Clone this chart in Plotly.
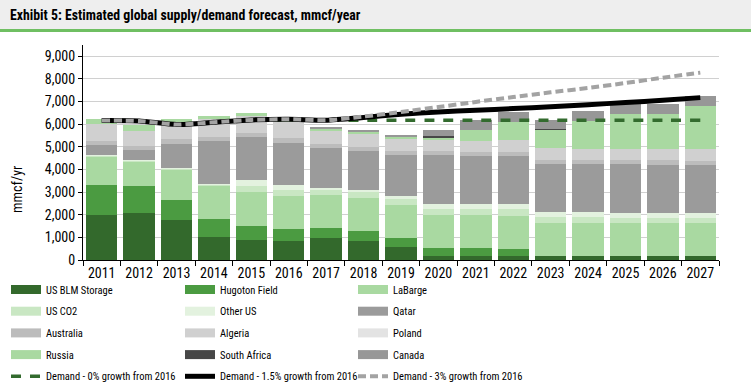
import plotly.graph_objects as go

years = [str(y) for y in range(2011, 2028)]

us_blm_storage = [2010, 2090, 1765, 1030, 900, 840, 970, 850, 570, 190, 190, 185, 180, 180, 180, 180, 180]
hugoton_field  = [1300, 1175, 900, 780, 610, 530, 455, 430, 385, 325, 355, 300, 0, 0, 0, 0, 0]
labarge        = [1280, 1100, 1330, 1480, 1475, 1470, 1440, 1470, 1470, 1470, 1440, 1460, 1460, 1460, 1450, 1450, 1450]
us_co2         = [20, 20, 40, 50, 280, 250, 220, 235, 265, 265, 265, 305, 250, 250, 235, 220, 205]
other_us       = [20, 12, 10, 12, 280, 220, 105, 130, 150, 235, 205, 210, 220, 210, 220, 205, 220]
qatar          = [440, 470, 1070, 1910, 1880, 1865, 1765, 1690, 1790, 2145, 2130, 2125, 2125, 2135, 2150, 2135, 2135]
australia      = [190, 160, 220, 175, 175, 220, 175, 195, 190, 175, 190, 175, 205, 175, 205, 220, 190]
algeria        = [750, 690, 765, 780, 765, 705, 575, 570, 545, 515, 500, 530, 500, 515, 485, 515, 515]
poland         = [0, 0, 0, 0, 0, 0, 0, 0, 0, 0, 0, 0, 0, 0, 0, 0, 0]
russia         = [235, 235, 120, 150, 130, 20, 100, 105, 105, 105, 470, 825, 820, 1205, 1545, 1530, 1895]
south_africa   = [0, 0, 0, 0, 0, 0, 0, 0, 0, 35, 0, 0, 45, 0, 0, 0, 0]
canada         = [0, 0, 0, 0, 0, 0, 60, 75, 75, 305, 440, 440, 400, 440, 440, 455, 445]

demand_0   = [6160, 6145, 5985, 6085, 6190, 6220, 6175, 6175, 6175, 6175, 6175, 6175, 6175, 6175, 6175, 6175, 6175]
demand_15  = [6160, 6145, 5985, 6085, 6190, 6220, 6175, 6300, 6440, 6540, 6615, 6690, 6775, 6865, 6955, 7055, 7175]
demand_3   = [6160, 6145, 5985, 6085, 6190, 6220, 6175, 6340, 6540, 6760, 6985, 7200, 7410, 7600, 7820, 8055, 8280]

series = [
    ("US BLM Storage", us_blm_storage, "#33692c", "legend"),
    ("Hugoton Field", hugoton_field, "#4b9b41", "legend2"),
    ("LaBarge", labarge, "#a9d9a1", "legend3"),
    ("US CO2", us_co2, "#c9e7c3", "legend"),
    ("Other US", other_us, "#e3f2df", "legend2"),
    ("Qatar", qatar, "#9b9b9b", "legend3"),
    ("Australia", australia, "#bcbcbc", "legend"),
    ("Algeria", algeria, "#d0d0d0", "legend2"),
    ("Poland", poland, "#e3e3e3", "legend3"),
    ("Russia", russia, "#a9d9a1", "legend"),
    ("South Africa", south_africa, "#474747", "legend2"),
    ("Canada", canada, "#979797", "legend3"),
]

FONT = "Liberation Sans Narrow, Arial Narrow, Roboto Condensed, DejaVu Sans Condensed, Liberation Sans, Arial"

W, H = 751, 390
ML, MR, MT, MB = 83, 32, 45, 130
PW, PH = W - ML - MR, H - MT - MB


def px(x):
    return (x - ML) / PW


def py(y):
    return (H - MB - y) / PH


fig = go.Figure()

for name, vals, col, lg in series:
    fig.add_trace(go.Bar(x=years, y=vals, name=name, marker=dict(color=col, line=dict(width=0)),
                         showlegend=False, hoverinfo="x+y+name"))

for i, (name, vals, col, lg) in enumerate(series):
    fig.add_trace(go.Scatter(x=[None], y=[None], mode="lines", name=name, legendgroup="g%d" % i,
                             line=dict(color=col, width=9), legend=lg, showlegend=True))

fig.add_trace(go.Scatter(x=years, y=demand_0, mode="lines", name="Demand - 0% growth from 2016",
                         legendgroup="d0",
                         line=dict(color="#336b2e", width=3.5, dash="10px,9px", shape="spline", smoothing=0.6),
                         legend="legend"))
fig.add_trace(go.Scatter(x=years, y=demand_15, mode="lines", name="Demand - 1.5% growth from 2016",
                         legendgroup="d15",
                         line=dict(color="#000000", width=5, shape="spline", smoothing=0.6),
                         legend="legend2"))
fig.add_trace(go.Scatter(x=years, y=demand_3, mode="lines", name="Demand - 3% growth from 2016",
                         legendgroup="d3",
                         line=dict(color="#a3a3a3", width=4, dash="8px,4px", shape="spline", smoothing=0.6),
                         legend="legend3"))

leg_common = dict(orientation="v", xanchor="left", yanchor="top", traceorder="grouped",
                  bgcolor="rgba(0,0,0,0)", font=dict(family=FONT, size=10.5, color="#000"),
                  itemwidth=30, tracegroupgap=2.7, itemclick=False, itemdoubleclick=False)

LEG_TOP = 275

fig.update_layout(
    width=W, height=H,
    margin=dict(l=ML, r=MR, t=MT, b=MB, autoexpand=False),
    paper_bgcolor="white", plot_bgcolor="white",
    barmode="stack", bargap=0.16,
    font=dict(family=FONT, size=14, color="#000"),
    legend=dict(x=px(6), y=py(LEG_TOP), **leg_common),
    legend2=dict(x=px(180), y=py(LEG_TOP), **leg_common),
    legend3=dict(x=px(353), y=py(LEG_TOP), **leg_common),
    xaxis=dict(type="category", showline=True, linecolor="#000", linewidth=1, automargin=False,
               ticks="outside", tickson="boundaries", ticklen=5, tickcolor="#000", tickangle=0,
               showgrid=False, tickfont=dict(family=FONT, size=14, color="#000")),
    yaxis=dict(range=[0, 9500], dtick=1000, tickformat=",", showline=True, linecolor="#000", linewidth=1,
               automargin=False,
               ticks="outside", ticklen=4, tickcolor="#000", showgrid=True, gridcolor="#d0d0d0",
               gridwidth=1, zeroline=False, tickfont=dict(family=FONT, size=14, color="#000")),
    shapes=[
        dict(type="rect", xref="paper", yref="paper", x0=px(0), x1=px(W), y0=py(29), y1=py(0),
             fillcolor="#eeeeee", line=dict(width=0), layer="below"),
        dict(type="rect", xref="paper", yref="paper", x0=px(0), x1=px(W), y0=py(32), y1=py(29),
             fillcolor="#6fbf62", line=dict(width=0), layer="below"),
    ],
    annotations=[
        dict(text="<b>Exhibit 5: Estimated global supply/demand forecast, mmcf/year</b>",
             xref="paper", yref="paper", x=px(8), y=py(15), xanchor="left", yanchor="middle",
             showarrow=False, font=dict(family=FONT, size=13.8, color="#000")),
        dict(text="mmcf/yr", xref="paper", yref="paper", x=px(17), y=py(190), xanchor="center",
             yanchor="middle", textangle=-90, showarrow=False, font=dict(family=FONT, size=14, color="#000")),
    ],
)

fig.write_html("out.html", config={"displayModeBar": False},
               post_script="document.body.style.margin='0';document.body.style.overflow='hidden';")
